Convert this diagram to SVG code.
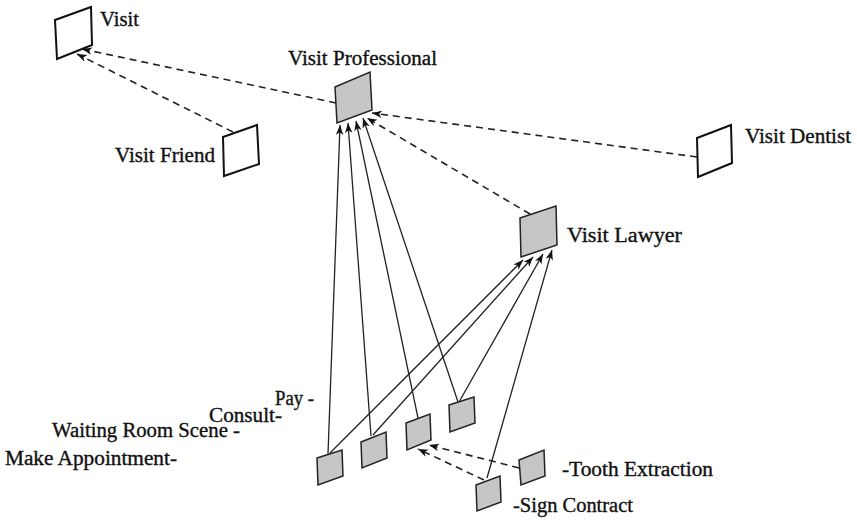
<svg xmlns="http://www.w3.org/2000/svg" width="857" height="524" viewBox="0 0 857 524">
<defs>
<marker id="ah" markerUnits="userSpaceOnUse" markerWidth="11" markerHeight="8" refX="10" refY="3.75" orient="auto">
<path d="M0,0 L10,3.75 L0,7.5 L2.8,3.75 z" fill="#111"/>
</marker>
<style>
.lbl{font-family:"Liberation Serif","Times New Roman",serif;font-size:20px;fill:#111;stroke:#111;stroke-width:0.35}
.wn{fill:#fff;stroke:#111;stroke-width:2}
.gn{fill:#c6c6c6;stroke:#222;stroke-width:1.5}
.sol{fill:none;stroke:#222;stroke-width:1.3;marker-end:url(#ah)}
.dash{fill:none;stroke:#222;stroke-width:1.6;stroke-dasharray:7 5;marker-end:url(#ah)}
</style>
</defs>
<rect width="857" height="524" fill="#fff"/>
<g id="connectors">
<path class="dash" d="M336,103 L82,49"/>
<path class="dash" d="M233,132 L77,54"/>
<path class="dash" d="M697,157 L372,113"/>
<path class="dash" d="M530,214 L367,118"/>
<path class="dash" d="M519,468 L429,445"/>
<path class="dash" d="M484,480 L418,449"/>
<path class="sol" d="M328,454 L340,125"/>
<path class="sol" d="M371,436 L348,123"/>
<path class="sol" d="M418,418 L356,121"/>
<path class="sol" d="M458,402 L363,118"/>
<path class="sol" d="M330,453 L523,260"/>
<path class="sol" d="M373,435 L533,257"/>
<path class="sol" d="M459,402 L543,254"/>
<path class="sol" d="M487,478 L552,250"/>
</g>
<g id="visit"><polygon class="wn" points="55,20 91,7 92,45 57,59"/><text class="lbl" x="100" y="26" textLength="39" lengthAdjust="spacingAndGlyphs">Visit</text></g>
<g id="visit-friend"><polygon class="wn" points="223,137 257,125 259,164 224,176"/><text class="lbl" x="115" y="162" textLength="100" lengthAdjust="spacingAndGlyphs">Visit Friend</text></g>
<g id="visit-professional"><polygon class="gn" points="335,87 370,72 372,110 337,123"/><text class="lbl" x="288" y="65" textLength="149" lengthAdjust="spacingAndGlyphs">Visit Professional</text></g>
<g id="visit-dentist"><polygon class="wn" points="697,138 731,125 732,163 698,177"/><text class="lbl" x="745" y="143" textLength="106" lengthAdjust="spacingAndGlyphs">Visit Dentist</text></g>
<g id="visit-lawyer"><polygon class="gn" points="520,218 556,206 557,245 521,257"/><text class="lbl" x="567" y="242" textLength="115" lengthAdjust="spacingAndGlyphs">Visit Lawyer</text></g>
<g id="make-appointment"><polygon class="gn" points="317,458 342,450 343,476 318,485"/><text class="lbl" x="5" y="465" textLength="172" lengthAdjust="spacingAndGlyphs">Make Appointment-</text></g>
<g id="waiting-room"><polygon class="gn" points="361,442 386,432 387,458 362,468"/><text class="lbl" x="52" y="437" textLength="188" lengthAdjust="spacingAndGlyphs">Waiting Room Scene -</text></g>
<g id="consult"><polygon class="gn" points="406,423 430,414 431,440 407,450"/><text class="lbl" x="209" y="422" textLength="73" lengthAdjust="spacingAndGlyphs">Consult-</text></g>
<g id="pay"><polygon class="gn" points="449,405 474,397 475,423 450,432"/><text class="lbl" x="275" y="405" textLength="39" lengthAdjust="spacingAndGlyphs">Pay -</text></g>
<g id="tooth-extraction"><polygon class="gn" points="519,460 544,450 545,476 521,485"/><text class="lbl" x="562" y="476" textLength="151" lengthAdjust="spacingAndGlyphs">-Tooth Extraction</text></g>
<g id="sign-contract"><polygon class="gn" points="476,485 500,476 501,502 477,511"/><text class="lbl" x="513" y="512" textLength="120" lengthAdjust="spacingAndGlyphs">-Sign Contract</text></g>
</svg>
